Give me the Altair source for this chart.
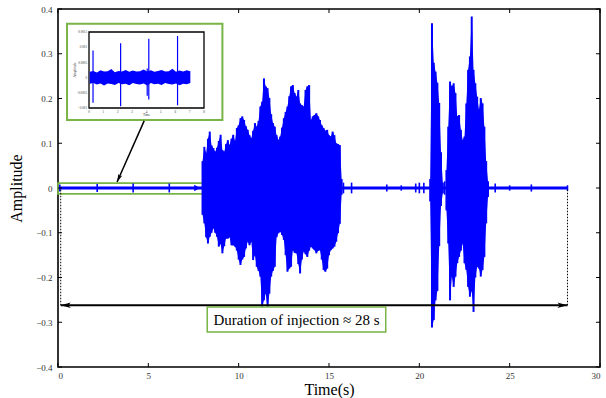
import altair as alt
import pandas as pd
import numpy as np

W, H = 542, 358
GREEN = "#78b446"
BLUE = "#0000ff"
SERIF = "Liberation Serif"

time_ticks = [0, 5, 10, 15, 20, 25, 30]
amp_ticks = [-0.4, -0.3, -0.2, -0.1, 0, 0.1, 0.2, 0.3, 0.4]

# ---- burst 1 (starts 8.0 s, 0.1 s apart) ----
b1_t0 = 8.0
b1_upper = [0.060, 0.092, 0.078, 0.110, 0.126, 0.095, 0.089, 0.081, 0.090, 0.105,
            0.119, 0.085, 0.081, 0.098, 0.107, 0.096, 0.110, 0.119, 0.105, 0.134,
            0.140, 0.156, 0.160, 0.152, 0.138, 0.130, 0.118, 0.111, 0.128, 0.145,
            0.137, 0.150, 0.182, 0.193, 0.245, 0.227, 0.223, 0.201, 0.165, 0.145,
            0.137, 0.118, 0.107, 0.115, 0.135, 0.156, 0.170, 0.182, 0.205, 0.227,
            0.230, 0.212, 0.204, 0.219, 0.189, 0.185, 0.182, 0.219, 0.227, 0.230,
            0.152, 0.160, 0.163, 0.167, 0.160, 0.152, 0.140, 0.134, 0.128, 0.130,
            0.118, 0.115, 0.126, 0.118, 0.100, 0.098, 0.096, 0.020]
b1_lower = [-0.060, -0.079, -0.110, -0.124, -0.109, -0.100, -0.090, -0.100, -0.109, -0.131,
            -0.125, -0.146, -0.130, -0.113, -0.113, -0.110, -0.128, -0.128, -0.131, -0.140,
            -0.160, -0.172, -0.160, -0.154, -0.135, -0.120, -0.128, -0.120, -0.161, -0.150,
            -0.176, -0.185, -0.198, -0.266, -0.251, -0.236, -0.269, -0.236, -0.198, -0.185,
            -0.176, -0.110, -0.101, -0.098, -0.105, -0.116, -0.150, -0.187, -0.180, -0.176,
            -0.139, -0.145, -0.146, -0.170, -0.191, -0.160, -0.142, -0.148, -0.154, -0.140,
            -0.131, -0.135, -0.139, -0.146, -0.140, -0.139, -0.160, -0.183, -0.187, -0.180,
            -0.150, -0.139, -0.135, -0.131, -0.120, -0.101, -0.080, -0.015]

# ---- burst 2a (starts 20.6 s) ----
b2a_t0 = 20.6
b2a_upper = [0.020, 0.368, 0.280, 0.260, 0.235, 0.190, 0.080, 0.012]
b2a_lower = [-0.030, -0.312, -0.295, -0.251, -0.230, -0.130, -0.040, -0.012]

# ---- burst 2b (starts 21.5 s) ----
b2b_t0 = 21.5
b2b_upper = [0.040, 0.137, 0.238, 0.227, 0.234, 0.212, 0.160, 0.163, 0.130, 0.107,
             0.115, 0.189, 0.264, 0.294, 0.383, 0.264, 0.234, 0.204, 0.175, 0.201,
             0.189, 0.137, 0.060, 0.015]
b2b_lower = [-0.050, -0.124, -0.251, -0.198, -0.221, -0.198, -0.168, -0.154, -0.140, -0.124,
             -0.168, -0.183, -0.221, -0.243, -0.230, -0.277, -0.200, -0.176, -0.180, -0.198,
             -0.183, -0.154, -0.079, -0.020]
burst_step = 0.1

# ---- baseline and its small spikes ----
base_start, base_end = 0.05, 28.2
spike_t = [0.1, 2.17, 4.16, 6.16, 15.8, 16.25, 18.2, 19.0, 19.8, 20.0, 20.25, 21.4, 24.2, 25.0, 26.2, 28.2]
spike_up = [0.008, 0.009, 0.010, 0.010, 0.012, 0.012, 0.008, 0.006, 0.010, 0.012, 0.012, 0.015, 0.010, 0.006, 0.008, 0.006]
spike_down = [-0.008, -0.009, -0.010, -0.010, -0.012, -0.012, -0.008, -0.006, -0.010, -0.012, -0.012, -0.015, -0.010, -0.006, -0.008, -0.006]

# ---- inset ----
inset_t0, inset_step = 0.05, 0.25
inset_upper = [0.00019, 0.00022, 0.00017, 0.00024, 0.00020, 0.00021, 0.00028, 0.00018, 0.00022, 0.00020,
               0.00025, 0.00019, 0.00023, 0.00020, 0.00021, 0.00027, 0.00020, 0.00024, 0.00019, 0.00022,
               0.00025, 0.00020, 0.00021, 0.00029, 0.00019, 0.00023, 0.00020, 0.00024, 0.00021]
inset_lower = [-0.00020, -0.00018, -0.00023, -0.00019, -0.00026, -0.00019, -0.00021, -0.00024, -0.00018, -0.00022,
               -0.00020, -0.00025, -0.00018, -0.00021, -0.00023, -0.00019, -0.00026, -0.00018, -0.00022, -0.00020,
               -0.00024, -0.00018, -0.00021, -0.00023, -0.00019, -0.00025, -0.00020, -0.00022, -0.00018]
inset_spike_t = [0.28, 2.2, 4.05, 4.16, 6.16]
inset_spike_up = [0.00089, 0.00113, 0.00030, 0.00128, 0.00137]
inset_spike_down = [-0.00083, -0.00094, -0.00060, -0.00072, -0.00091]
inset_x_ticks = [0, 1, 2, 3, 4, 5, 6, 7, 8]
inset_y_ticks = [-0.001, -0.0005, 0, 0.0005, 0.001, 0.0015]

label_text = "Duration of injection \u2248 28 s"

# ---------------- build tables ----------------
def burst_df(t0, up, lo, seg):
    t = t0 + burst_step * np.arange(len(up))
    return pd.DataFrame({"t": t, "a": lo, "a2": up, "seg": seg})

bursts = pd.concat([burst_df(b1_t0, b1_upper, b1_lower, "b1"),
                    burst_df(b2a_t0, b2a_upper, b2a_lower, "b2a"),
                    burst_df(b2b_t0, b2b_upper, b2b_lower, "b2b")])
spikes = pd.DataFrame({"t": spike_t, "a": spike_down, "a2": spike_up})
baseline = pd.DataFrame({"t": [base_start], "t2": [base_end], "a": [0.0]})

xs = alt.Scale(domain=[0, 30], nice=False, zero=False)
ys = alt.Scale(domain=[-0.4, 0.4], nice=False, zero=False)
xaxis = alt.Axis(values=time_ticks, format="~g", grid=False, ticks=False, domain=False,
                 labelPadding=4, titlePadding=1)
yaxis = alt.Axis(values=amp_ticks, format="~g", grid=False, ticks=False, domain=False,
                 labelPadding=6, titlePadding=11)
X = alt.X("t:Q", scale=xs, axis=xaxis, title="Time(s)")
Y = alt.Y("a:Q", scale=ys, axis=yaxis, title="Amplitude")

# green boxes
inset_box = pd.DataFrame({"t": [0.5], "t2": [9.1], "a": [0.152], "a2": [0.367]})
base_box = pd.DataFrame({"t": [0.0], "t2": [8.04], "a": [-0.013], "a2": [0.011]})
label_box = pd.DataFrame({"t": [8.26], "t2": [18.14], "a": [-0.322], "a2": [-0.266]})
label_pos = pd.DataFrame({"t": [13.2], "a": [-0.294], "txt": [label_text]})

arrow_y = -0.262
dotted = pd.DataFrame({"t": [0.15, 28.2], "a": [arrow_y, arrow_y], "a2": [0.0, 0.0]})
harrow = pd.DataFrame({"t": [0.15], "t2": [28.2], "a": [arrow_y]})
head_l = pd.DataFrame({"t": [0.43], "a": [arrow_y]})
head_r = pd.DataFrame({"t": [27.92], "a": [arrow_y]})
ptr = pd.DataFrame({"t": [4.77], "t2": [3.27], "a": [0.150], "a2": [0.0134]})
ptr_head = pd.DataFrame({"t": [3.36], "a": [0.0217]})
blue_head = pd.DataFrame({"t": [7.7], "a": [0.0]})

xt = pd.DataFrame({"t": time_ticks})
yt = pd.DataFrame({"a": amp_ticks})

rect_base = lambda df, **kw: alt.Chart(df).mark_rect(**kw).encode(
    x=X, x2=alt.X2("t2:Q"), y=Y, y2=alt.Y2("a2:Q"))

main_layers = [
    rect_base(inset_box, fill="white", stroke=GREEN, strokeWidth=2),
    rect_base(base_box, fill=None, filled=False, stroke=GREEN, strokeWidth=1.8),
    alt.Chart(baseline).mark_rule(color=BLUE, strokeWidth=3).encode(x=X, x2=alt.X2("t2:Q"), y=Y),
    alt.Chart(spikes).mark_rule(color=BLUE, strokeWidth=1.6).encode(x=X, y=Y, y2=alt.Y2("a2:Q")),
    alt.Chart(bursts).mark_area(color=BLUE, opacity=1).encode(x=X, y=Y, y2=alt.Y2("a2:Q"), detail="seg:N"),
    alt.Chart(bursts).mark_rule(color=BLUE, strokeWidth=2).encode(x=X, y=Y, y2=alt.Y2("a2:Q")),
    alt.Chart(blue_head).mark_point(shape="triangle-right", filled=True, color=BLUE, size=45, opacity=1).encode(x=X, y=Y),
    alt.Chart(dotted).mark_rule(color="black", strokeWidth=1, strokeDash=[1.5, 1.5]).encode(x=X, y=Y, y2=alt.Y2("a2:Q")),
    alt.Chart(harrow).mark_rule(color="black", strokeWidth=2).encode(x=X, x2=alt.X2("t2:Q"), y=Y),
    alt.Chart(head_l).mark_point(shape="M-1,0L1,-0.55L0.5,0L1,0.55Z", filled=True, color="black", size=100, opacity=1).encode(x=X, y=Y),
    alt.Chart(head_r).mark_point(shape="M1,0L-1,-0.55L-0.5,0L-1,0.55Z", filled=True, color="black", size=100, opacity=1).encode(x=X, y=Y),
    rect_base(label_box, fill="white", stroke=GREEN, strokeWidth=1.5),
    alt.Chart(label_pos).mark_text(font=SERIF, fontSize=15, color="black", align="center", baseline="middle").encode(x=X, y=Y, text="txt:N"),
    alt.Chart(ptr).mark_rule(color="black", strokeWidth=1.5).encode(x=X, x2=alt.X2("t2:Q"), y=Y, y2=alt.Y2("a2:Q")),
    alt.Chart(ptr_head).mark_point(shape="M0,-1L0.55,1L0,0.5L-0.55,1Z", angle=204, filled=True, color="black", size=64, opacity=1).encode(x=X, y=Y),
    # inside ticks on all four sides
    alt.Chart(xt).mark_rule(color="black", strokeWidth=1).encode(x=X, y=alt.value(H), y2=alt.value(H - 4)),
    alt.Chart(xt).mark_rule(color="black", strokeWidth=1).encode(x=X, y=alt.value(0), y2=alt.value(4)),
    alt.Chart(yt).mark_rule(color="black", strokeWidth=1).encode(y=Y, x=alt.value(0), x2=alt.value(4)),
    alt.Chart(yt).mark_rule(color="black", strokeWidth=1).encode(y=Y, x=alt.value(W), x2=alt.value(W - 4)),
]
main = alt.layer(*main_layers)

# ---------------- inset ----------------
ixs = alt.Scale(domain=[0, 8], range=[31, 146], nice=False, zero=False)
iys = alt.Scale(domain=[-0.001, 0.0015], range=[99, 23], nice=False, zero=False)
IX = alt.X("t:Q", scale=ixs, axis=None)
IY = alt.Y("a:Q", scale=iys, axis=None)

inset_band = pd.DataFrame({"t": inset_t0 + inset_step * np.arange(len(inset_upper)),
                           "a": inset_lower, "a2": inset_upper})
inset_spikes = pd.DataFrame({"t": inset_spike_t, "a": inset_spike_down, "a2": inset_spike_up})
inset_frame = pd.DataFrame({"t": [0], "t2": [8], "a": [-0.001], "a2": [0.0015]})
ixt = pd.DataFrame({"t": inset_x_ticks, "a": [-0.001] * len(inset_x_ticks)})
iyt = pd.DataFrame({"t": [0] * len(inset_y_ticks), "a": inset_y_ticks})
ititle_x = pd.DataFrame({"t": [4], "a": [-0.001], "txt": ["Time"]})
ititle_y = pd.DataFrame({"t": [0], "a": [0.00025], "txt": ["Amplitude"]})

inset = alt.layer(
    alt.Chart(inset_frame).mark_rect(fill="white", stroke="black", strokeWidth=1.3).encode(
        x=IX, x2=alt.X2("t2:Q"), y=IY, y2=alt.Y2("a2:Q")),
    alt.Chart(inset_band).mark_area(color=BLUE, opacity=1).encode(x=IX, y=IY, y2=alt.Y2("a2:Q")),
    alt.Chart(inset_spikes).mark_rule(color=BLUE, strokeWidth=1.2).encode(x=IX, y=IY, y2=alt.Y2("a2:Q")),
    alt.Chart(ixt).mark_text(font=SERIF, fontSize=3.2, color="#333", baseline="top", dy=2).encode(
        x=IX, y=IY, text=alt.Text("t:Q", format="~g")),
    alt.Chart(iyt).mark_text(font=SERIF, fontSize=3.2, color="#333", align="right", baseline="middle", dx=-2).encode(
        x=IX, y=IY, text=alt.Text("a:Q", format="~g")),
    alt.Chart(ititle_x).mark_text(font=SERIF, fontSize=3.5, color="#333", baseline="top", dy=5).encode(
        x=IX, y=IY, text="txt:N"),
    alt.Chart(ititle_y).mark_text(font=SERIF, fontSize=3.5, color="#333", angle=270, baseline="bottom", dx=0, dy=-12).encode(
        x=IX, y=IY, text="txt:N"),
)

chart = alt.layer(main, inset).resolve_scale(x="independent", y="independent").properties(
    width=W, height=H,
    autosize=alt.AutoSizeParams(type="none"),
    padding={"left": 58, "top": 9, "right": 6, "bottom": 31},
).configure_view(stroke="black", strokeWidth=1.6).configure_axis(
    labelFont=SERIF, labelFontSize=9, labelColor="#333",
    titleFont=SERIF, titleFontSize=16, titleFontWeight="normal", titleColor="black",
)

chart.save("out.html", embed_options={"renderer": "svg", "actions": False})
